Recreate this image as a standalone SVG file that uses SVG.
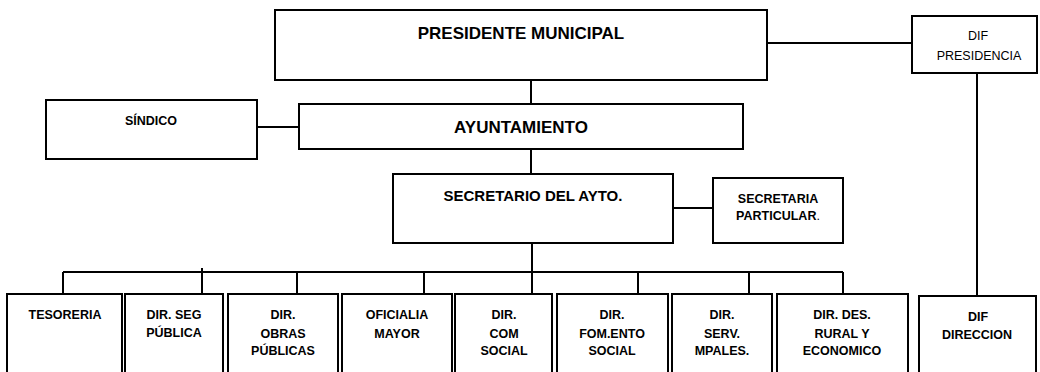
<svg xmlns="http://www.w3.org/2000/svg" width="1040" height="372" viewBox="0 0 1040 372">
<style>
.box{fill:#fff;stroke:#000;stroke-width:2}
.ln{fill:none;stroke:#000;stroke-width:2}
text{font-family:"Liberation Sans",Arial,sans-serif;font-weight:bold;fill:#000;text-anchor:middle}
.big{font-size:17px}
.mid{font-size:15px}
.sm{font-size:12.5px}
.rg{font-weight:normal;font-size:12.5px}
</style>
<rect width="1040" height="372" fill="#fff"/>
<g id="connectors">
<path class="ln" d="M531 80V104M531 149V174M767 43H912M257 127H299M673 208H713M977 73V296"/>
<path class="ln" d="M532 243V294M63 272H843M63 272V294M202 268V294M297 272V294M424 272V294M638 272V294M749 272V294M843 272V294"/>
</g>
<g id="presidente"><rect class="box" x="275" y="10" width="492" height="70"/><text class="big" x="521" y="39">PRESIDENTE MUNICIPAL</text></g>
<g id="dif-presidencia"><rect class="box" x="912" y="16" width="125" height="57"/><text class="rg" x="978" y="40">DIF</text><text class="rg" x="979" y="60">PRESIDENCIA</text></g>
<g id="sindico"><rect class="box" x="46" y="100" width="211" height="59"/><text class="sm" x="151" y="125">SÍNDICO</text></g>
<g id="ayuntamiento"><rect class="box" x="299" y="104" width="444" height="45"/><text class="big" x="521" y="133">AYUNTAMIENTO</text></g>
<g id="secretario"><rect class="box" x="393" y="174" width="280" height="69"/><text class="mid" x="533" y="201">SECRETARIO DEL AYTO.</text></g>
<g id="secretaria-particular"><rect class="box" x="713" y="178" width="130" height="65"/><text class="sm" x="778" y="203">SECRETARIA</text><text class="sm" x="778" y="220">PARTICULAR<tspan font-weight="normal">.</tspan></text></g>
<g id="tesoreria"><rect class="box" x="7" y="294" width="115" height="90"/><text class="sm" x="65" y="319">TESORERIA</text></g>
<g id="dir-seg"><rect class="box" x="125" y="294" width="98" height="90"/><text class="sm" x="174" y="319">DIR. SEG</text><text class="sm" x="174" y="337">PÚBLICA</text></g>
<g id="dir-obras"><rect class="box" x="228" y="294" width="110" height="90"/><text class="sm" x="283" y="319">DIR.</text><text class="sm" x="283" y="338">OBRAS</text><text class="sm" x="283" y="355">PÚBLICAS</text></g>
<g id="oficialia"><rect class="box" x="342" y="294" width="110" height="90"/><text class="sm" x="397" y="319">OFICIALIA</text><text class="sm" x="397" y="338">MAYOR</text></g>
<g id="dir-com"><rect class="box" x="455" y="294" width="97" height="90"/><text class="sm" x="504" y="319">DIR.</text><text class="sm" x="504" y="338">COM</text><text class="sm" x="504" y="355">SOCIAL</text></g>
<g id="dir-fomento"><rect class="box" x="557" y="294" width="111" height="90"/><text class="sm" x="612" y="319">DIR.</text><text class="sm" x="612" y="338">FOM.ENTO</text><text class="sm" x="612" y="355">SOCIAL</text></g>
<g id="dir-serv"><rect class="box" x="672" y="294" width="100" height="90"/><text class="sm" x="722" y="319">DIR.</text><text class="sm" x="722" y="338">SERV.</text><text class="sm" x="722" y="355">MPALES.</text></g>
<g id="dir-des-rural"><rect class="box" x="777" y="294" width="131" height="90"/><text class="sm" x="842" y="319">DIR. DES.</text><text class="sm" x="842" y="338">RURAL Y</text><text class="sm" x="842" y="355">ECONOMICO</text></g>
<g id="dif-direccion"><rect class="box" x="919" y="296" width="117" height="90"/><text class="sm" x="978" y="321">DIF</text><text class="sm" x="977" y="339">DIRECCION</text></g>
</svg>
